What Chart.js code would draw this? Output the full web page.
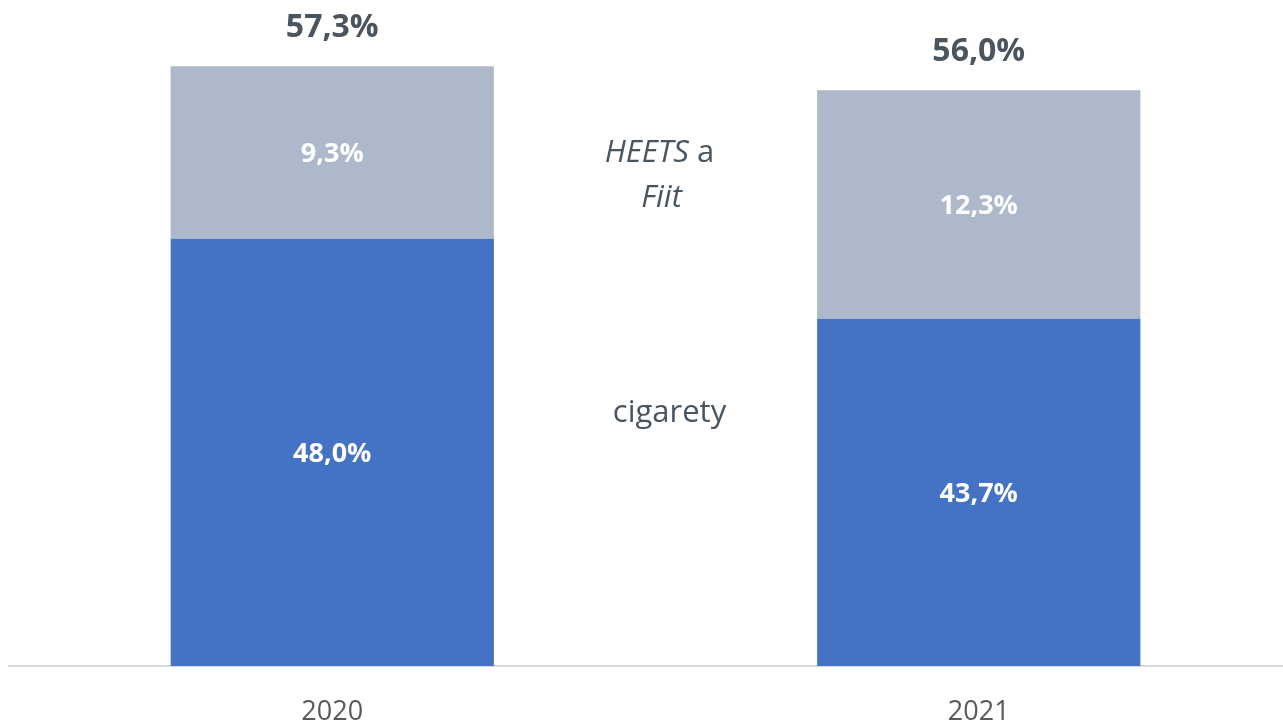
<!DOCTYPE html>
<html>
<head>
<meta charset="utf-8">
<script src="https://cdn.jsdelivr.net/npm/chart.js@4.4.0/dist/chart.umd.min.js"></script>
<style>
	html, body { margin: 0; padding: 0; background: #fff; overflow: hidden; }
	#wrap { width: 1302px; height: 724px; }
</style>
</head>
<body>
<div id="wrap"><canvas id="myChart1" width="1302" height="724"></canvas></div>
<script>
// data
const years = ['2020', '2021'];
const cigarety = [48.0, 43.7];
const heets = [9.3, 12.3];
const totals = [57.3, 56.0];
const seriesNames = ['cigarety', 'HEETS a Fiit'];

const textColor = '#4A5560';
const fontName = '"Open Sans", "Segoe UI", sans-serif';

function fmt(v){
	return v.toFixed(1).replace('.', ',') + '%';
}

// labels in bars, totals on top, series names between bars
const labelPlugin = {
	id: 'labels',
	afterDatasetsDraw(chart){
		let ctx = chart.ctx;
		let area = chart.chartArea;
		let yScale = chart.scales.y;
		let xScale = chart.scales.x;
		ctx.save();
		ctx.textAlign = 'center';
		ctx.textBaseline = 'middle';
		ctx.fillStyle = '#fff';
		ctx.font = 'bold 27px ' + fontName;
		chart.data.datasets.forEach(function(ds, di){
			let meta = chart.getDatasetMeta(di);
			meta.data.forEach(function(bar, i){
				let top = bar.y;
				let bottom = Math.min(bar.base, area.bottom);
				ctx.fillText(fmt(ds.data[i]), bar.x, (top + bottom) / 2 + 2);
			});
		});
		// totals
		ctx.fillStyle = textColor;
		ctx.font = 'bold 32px ' + fontName;
		ctx.textBaseline = 'alphabetic';
		let topMeta = chart.getDatasetMeta(1);
		topMeta.data.forEach(function(bar, i){
			ctx.fillText(fmt(totals[i]), bar.x, bar.y - 29);
		});
		// series names
		let mid = (xScale.getPixelForValue(0) + xScale.getPixelForValue(1)) / 2 + 4;
		ctx.textBaseline = 'middle';
		ctx.font = '31px ' + fontName;
		ctx.fillText(seriesNames[0], mid + 10, yScale.getPixelForValue(38.6));
		// HEETS a / Fiit
		let y1 = yScale.getPixelForValue(52.6);
		let y2 = yScale.getPixelForValue(50.2);
		ctx.font = 'italic 31px ' + fontName;
		let w1 = ctx.measureText('HEETS').width;
		ctx.font = '31px ' + fontName;
		let w2 = ctx.measureText(' a').width;
		let x0 = mid - (w1 + w2) / 2;
		ctx.textAlign = 'left';
		ctx.font = 'italic 31px ' + fontName;
		ctx.fillText('HEETS', x0, y1);
		ctx.font = '31px ' + fontName;
		ctx.fillText(' a', x0 + w1, y1);
		ctx.textAlign = 'center';
		ctx.font = 'italic 31px ' + fontName;
		ctx.fillText('Fiit', mid + 2, y2);
		ctx.restore();
	}
};

const data = {
	labels: years,
	datasets: [{
		label: seriesNames[0],
		data: cigarety,
		backgroundColor: '#4472C4',
		borderWidth: 0,
		barPercentage: 0.5,
		categoryPercentage: 1
	}, {
		label: seriesNames[1],
		data: heets,
		backgroundColor: '#ADB9CA',
		borderWidth: 0,
		barPercentage: 0.5,
		categoryPercentage: 1
	}]
};

const config = {
	type: 'bar',
	data: data,
	options: {
		responsive: false,
		animation: false,
		layout: { padding: { left: 9, right: 0, top: 16, bottom: 0 } },
		plugins: {
			legend: { display: false },
			tooltip: { enabled: false }
		},
		scales: {
			x: {
				stacked: true,
				grid: { display: false },
				border: { display: true, color: '#D9D9D9', width: 2 },
				ticks: {
					color: '#595959',
					font: { family: fontName, size: 27 },
					padding: 22
				},
				afterFit: function(s){ s.height = 58; }
			},
			y: {
				stacked: true,
				display: false,
				min: 25,
				max: 60
			}
		}
	},
	plugins: [labelPlugin]
};

let myChart1 = new Chart(document.getElementById('myChart1'), config);
</script>
</body>
</html>
